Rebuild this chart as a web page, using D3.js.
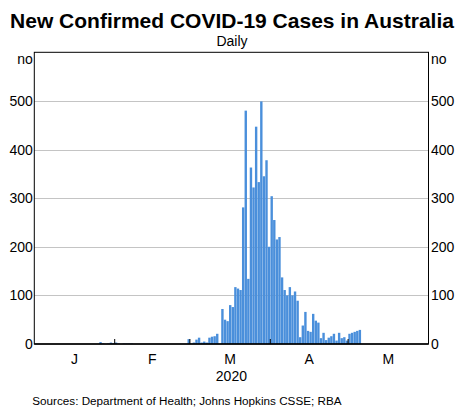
<!DOCTYPE html>
<html>
<head>
<meta charset="utf-8">
<script src="https://cdn.jsdelivr.net/npm/d3@7"></script>
<style>
  html, body { margin: 0; padding: 0; background: #ffffff; }
  svg { display: block; font-family: Arial, "Liberation Sans", sans-serif; }
</style>
</head>
<body>
<svg id="chart" width="465" height="408"></svg>
<script>
// ---- data ----
const title = "New Confirmed COVID-19 Cases in Australia";
const subtitle = "Daily";
const unitLabel = "no";
const yearLabel = "2020";
const sourceText = "Sources: Department of Health; Johns Hopkins CSSE; RBA";
const firstDay = "2020-01-22";
const dailyCases = [
  // Jan 22 - Jan 31
  0, 0, 0, 0, 4, 1, 0, 1, 3, 2,
  // Feb 1 - Feb 29
  3, 1, 0, 1, 1, 1, 1, 0, 0, 0, 0, 0, 0, 0, 0, 0, 0, 0, 0, 0, 0, 0, 0, 0, 0, 0, 0, 0, 10,
  // Mar 1 - Mar 31
  1, 3, 9, 13, 3, 5, 3, 13, 15, 16, 21, 0, 72, 50, 47, 80, 76, 117, 114, 111,
  281, 480, 134, 363, 322, 447, 333, 499, 345, 378, 200,
  // Apr 1 - Apr 30
  304, 255, 215, 220, 137, 111, 100, 117, 100, 108, 89, 14, 38, 66, 27, 25, 62, 48, 44, 12,
  23, 8, 13, 16, 21, 7, 23, 12, 14, 7,
  // May 1 - May 5
  21, 23, 25, 27, 29
];
const yTicks = [0, 100, 200, 300, 400, 500];
const monthStarts = ["2020-01-01", "2020-02-01", "2020-03-01", "2020-04-01", "2020-05-01", "2020-06-01"];
const monthLabels = ["J", "F", "M", "A", "M"];

// ---- layout ----
const svg = d3.select("#chart");
const plotL = 34.3, plotR = 428.5, plotT = 52.3, plotB = 344;
const parse = d3.utcParse("%Y-%m-%d");
const monthDates = monthStarts.map(parse);
const start = parse(firstDay);
const data = dailyCases.map((v, i) => ({ date: d3.utcDay.offset(start, i), value: v }));

const x = d3.scaleUtc().domain([monthDates[0], monthDates[monthDates.length - 1]]).range([plotL, plotR]);
const y = d3.scaleLinear().domain([0, 600]).range([plotB, plotT]);

// gridlines
svg.append("g").selectAll("line").data(yTicks.filter(d => d > 0)).join("line")
  .attr("x1", plotL).attr("x2", plotR)
  .attr("y1", d => Math.round(y(d)) + 0.5).attr("y2", d => Math.round(y(d)) + 0.5)
  .attr("stroke", "#c4c4c4").attr("stroke-width", 1);

// bars
svg.append("g").selectAll("rect").data(data.filter(d => d.value > 0)).join("rect")
  .attr("x", d => x(d.date) + 0.2)
  .attr("width", d => x(d3.utcDay.offset(d.date, 1)) - x(d.date) - 0.2)
  .attr("y", d => y(d.value))
  .attr("height", d => y(0) - y(d.value))
  .attr("fill", "#4a8fdb");

// frame
svg.append("rect")
  .attr("x", plotL).attr("y", plotT).attr("width", plotR - plotL).attr("height", plotB - plotT)
  .attr("fill", "none").attr("stroke", "#000").attr("stroke-width", 1);
svg.append("line").attr("x1", plotL).attr("x2", plotR).attr("y1", plotB).attr("y2", plotB)
  .attr("stroke", "#000").attr("stroke-width", 1.6);

// month ticks (inside)
svg.append("g").selectAll("line").data(monthDates.slice(1, -1)).join("line")
  .attr("x1", d => x(d)).attr("x2", d => x(d))
  .attr("y1", plotB).attr("y2", plotB - 5)
  .attr("stroke", "#000").attr("stroke-width", 1);

// month labels
svg.append("g").selectAll("text").data(monthLabels).join("text")
  .attr("x", (d, i) => (x(monthDates[i]) + x(monthDates[i + 1])) / 2)
  .attr("y", 364)
  .attr("text-anchor", "middle").attr("font-size", 14).attr("fill", "#000")
  .text(d => d);

svg.append("text").attr("x", (plotL + plotR) / 2).attr("y", 381)
  .attr("text-anchor", "middle").attr("font-size", 14).text(yearLabel);

// y labels
const yl = svg.append("g").attr("font-size", 14).attr("fill", "#000");
yl.selectAll("text.l").data(yTicks).join("text").attr("class", "l")
  .attr("x", plotL - 1.5).attr("y", d => y(d)).attr("dy", "0.36em")
  .attr("text-anchor", "end").text(d => d);
yl.selectAll("text.r").data(yTicks).join("text").attr("class", "r")
  .attr("x", plotR + 2.5).attr("y", d => y(d)).attr("dy", "0.36em")
  .attr("text-anchor", "start").text(d => d);
yl.append("text").attr("x", plotL - 1.5).attr("y", 64).attr("text-anchor", "end").text(unitLabel);
yl.append("text").attr("x", plotR + 2.5).attr("y", 64).attr("text-anchor", "start").text(unitLabel);

// titles
svg.append("text").attr("x", 232).attr("y", 27.5).attr("text-anchor", "middle")
  .attr("font-size", 21).attr("font-weight", "bold").text(title);
svg.append("text").attr("x", 232).attr("y", 46).attr("text-anchor", "middle")
  .attr("font-size", 14).text(subtitle);

// source
svg.append("text").attr("x", 32.3).attr("y", 405).attr("font-size", 11.7).text(sourceText);
</script>
</body>
</html>
